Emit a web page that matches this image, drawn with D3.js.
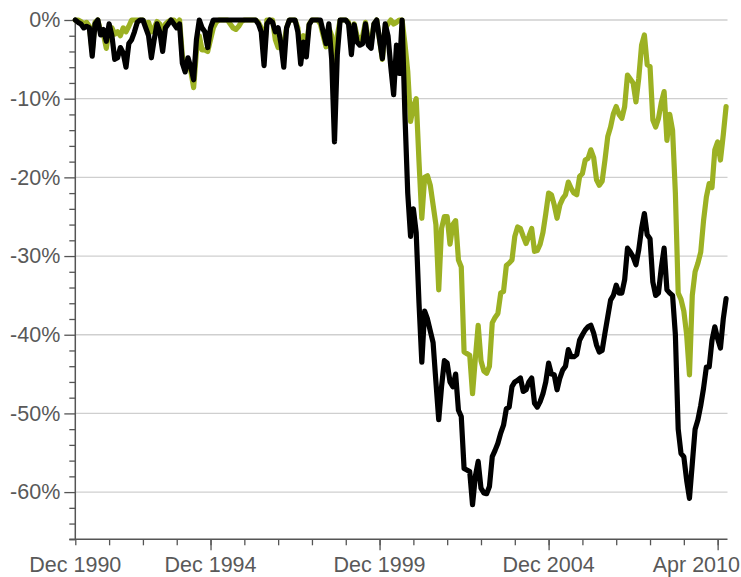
<!DOCTYPE html>
<html>
<head>
<meta charset="utf-8">
<script src="https://cdn.jsdelivr.net/npm/d3@7"></script>
<style>
  html, body { margin: 0; padding: 0; background: #fff; }
  svg { display: block; }
  text { font-family: "Liberation Sans", Arial, Helvetica, sans-serif; }
</style>
</head>
<body>
<svg id="chart" width="741" height="577"></svg>
<script>
// Monthly drawdown values (%), one point per month
const seriesBlack = [
  0, -0.3, -0.5, -1.0, -0.8, -1.0, -4.6, -0.5, 0, -1.9,
  -1.2, -2.7, -0.5, -2.0, -5.0, -4.8, -3.5, -4.2, -6.0, -3.0,
  -2.5, -1.5, -0.3, 0, 0, -1.0, -2.0, -4.8, -2.5, -0.5,
  -1.5, -4.0, -1.0, -0.5, 0, -0.5, -1.0, -0.5, -5.5, -6.6,
  -4.8, -6.0, -7.6, -2.5, 0, -1.0, -1.5, -3.5, -1.0, 0,
  0, 0, 0, 0, 0, 0, 0, 0, 0, 0,
  0, 0, 0, 0, 0, -0.5, -1.5, -5.8, -0.5, 0,
  -0.3, -1.5, -1.0, -3.0, -6.0, -1.0, 0, 0, 0, -1.5,
  -5.6, -2.8, -4.7, -0.6, 0, 0, 0, 0, -1.5, -3.0,
  -0.5, -5.0, -15.5, -4.4, 0, 0, 0, -0.5, -4.4, -0.6,
  -2.8, -3.2, -3.0, -0.5, -3.2, -3.6, -0.5, 0, -2.5, -4.9,
  -0.5, -2.0, -6.0, -9.5, -3.2, -6.8, 0, -12.0, -22.0, -27.5,
  -24.0, -27.0, -36.0, -43.5, -37.0, -38.0, -39.5, -41.0, -46.0, -50.8,
  -46.6, -43.3, -43.6, -46.0, -46.6, -45.0, -49.6, -50.4, -57.0, -57.2,
  -57.4, -61.6, -58.0, -56.1, -59.5, -60.1, -60.2, -59.3, -55.5, -54.7,
  -53.8, -52.5, -51.5, -49.4, -49.2, -46.6, -46.0, -45.8, -45.5, -47.2,
  -47.0, -46.0, -45.5, -48.7, -49.2, -48.5, -47.5, -46.0, -43.6, -45.0,
  -45.1, -47.0, -45.5, -44.5, -44.0, -41.9, -42.8, -42.8, -42.5, -40.7,
  -40.0, -39.4, -39.0, -38.8, -39.8, -41.3, -42.2, -42.0, -39.8, -37.7,
  -35.6, -35.0, -33.7, -34.7, -34.7, -33.0, -29.0, -29.5, -30.1, -31.1,
  -29.2, -26.5, -24.6, -27.3, -27.8, -33.3, -35.0, -34.7, -31.5, -29.0,
  -34.3, -34.7, -35.0, -40.0, -52.0, -55.1, -55.5, -58.5, -60.8, -56.4,
  -52.0, -50.8, -49.0, -46.8, -44.1, -44.1, -40.7, -39.0, -40.5, -41.7,
  -38.0, -35.4
];
const seriesGreen = [
  0, 0, -0.2, -0.5, -0.3, -0.8, -4.0, -0.3, 0, -1.5,
  -1.8, -3.6, -1.2, -1.0, -1.8, -1.5, -2.0, -1.0, -1.5, -0.8,
  0, 0, 0, 0, 0, -0.5, -0.3, -1.5, -1.0, -0.2,
  -0.5, -1.5, -0.5, -0.2, 0, 0, -0.5, 0, -4.5, -6.0,
  -5.5, -6.5, -8.6, -4.0, -2.0, -3.8, -3.8, -4.0, -2.5, -1.0,
  -0.3, 0, 0, 0, 0, -0.5, -1.0, -1.2, -0.8, -0.2,
  0, 0, 0, 0, 0, -0.3, -1.0, -4.5, 0, 0,
  0, -2.5, -3.5, -2.5, -3.0, -1.0, 0, 0, 0, -1.0,
  -4.5, -2.0, -3.5, -0.5, 0, 0, 0, -0.5, -2.0, -3.4,
  -1.0, -2.0, -5.5, -2.0, 0, 0, 0, -0.3, -2.5, -0.5,
  -2.0, -2.5, -2.0, -0.3, -2.5, -2.8, -0.5, 0, -2.5, -5.0,
  -1.0, -0.5, 0, -0.5, -0.3, 0, 0, -3.0, -6.5, -12.9,
  -11.0, -10.0, -18.0, -25.2, -20.0, -19.8, -21.0, -23.5, -26.0, -34.3,
  -26.5, -25.0, -25.0, -28.5, -26.0, -25.5, -30.5, -31.4, -42.2, -42.4,
  -42.6, -47.5, -43.0, -38.8, -43.3, -44.6, -44.9, -44.0, -38.5, -37.8,
  -37.3, -34.7, -34.5, -31.2, -30.9, -30.5, -27.5, -26.3, -26.5, -27.5,
  -28.4, -27.5, -26.5, -29.4, -29.3, -28.5, -27.0, -24.6, -22.0, -22.2,
  -23.5, -25.2, -23.5, -22.7, -22.2, -20.6, -21.4, -22.0, -22.2, -19.9,
  -19.5, -17.8, -17.6, -16.5, -17.5, -20.3, -21.0, -20.5, -17.8, -14.8,
  -13.6, -11.9, -11.0, -12.0, -12.5, -11.0, -7.0, -7.5, -8.0, -10.4,
  -7.4, -3.2, -1.9, -5.7, -5.9, -12.7, -13.6, -12.5, -10.5, -9.1,
  -15.3, -12.0, -14.0, -22.0, -34.7, -35.5, -37.0, -40.0, -45.1, -35.0,
  -32.0, -30.9, -29.5, -25.5, -22.5, -20.8, -21.3, -16.5, -15.5, -17.8,
  -14.6, -11.0
];
const xTickLabels = ["Dec 1990", "Dec 1994", "Dec 1999", "Dec 2004", "Apr 2010"];
const xTickLabelIndex = [0, 48, 108, 168, 228];
const yMajorTicks = [0, -10, -20, -30, -40, -50, -60];

(function () {
const svg = d3.select("#chart");
const W = 741;
const mLeft = 75.3, mRight = 727.5, mTop = 20, mBottom = 539.3;

const x = d3.scaleLinear().domain([0, 231.5]).range([mLeft, mRight]);
const y = d3.scaleLinear().domain([-66, 0]).range([mBottom, mTop]);

const axisColor = "#555";
const labelColor = "#595959";

// gridlines
svg.append("g").selectAll("line").data(yMajorTicks).join("line")
  .attr("x1", mLeft).attr("x2", mRight)
  .attr("y1", d => y(d)).attr("y2", d => y(d))
  .attr("stroke", "#cfcfcf").attr("stroke-width", 1.3);

// y axis: major ticks with labels, minor ticks every 2%
const yAxis = d3.axisLeft(y).tickValues(yMajorTicks).tickSize(11).tickPadding(4)
  .tickFormat(d => String(d) + "%");
const yg = svg.append("g").attr("transform", `translate(${mLeft},0)`).call(yAxis);
yg.select(".domain").remove();
yg.selectAll(".tick line").attr("stroke", axisColor).attr("stroke-width", 1.3);
yg.selectAll(".tick text").attr("fill", labelColor).attr("font-size", 21.5)
  .attr("font-family", '"Liberation Sans", Arial, sans-serif');

const yMinor = d3.range(0, -67, -2).filter(v => v % 10 !== 0);
const yMinorAxis = d3.axisLeft(y).tickValues(yMinor).tickSize(6).tickFormat("");
const ymg = svg.append("g").attr("transform", `translate(${mLeft},0)`).call(yMinorAxis);
ymg.select(".domain").remove();
ymg.selectAll(".tick line").attr("stroke", axisColor).attr("stroke-width", 1.3);

svg.append("line").attr("x1", mLeft).attr("x2", mLeft).attr("y1", mTop).attr("y2", mBottom)
  .attr("stroke", axisColor).attr("stroke-width", 1.5);

// x axis
const xMinor = d3.range(0, 229, 12);
const xMinorAxis = d3.axisBottom(x).tickValues(xMinor).tickSize(6).tickFormat("");
const xmg = svg.append("g").attr("transform", `translate(0,${mBottom})`).call(xMinorAxis);
xmg.select(".domain").remove();
xmg.selectAll(".tick line").attr("stroke", axisColor).attr("stroke-width", 1.3);

const xMajorAxis = d3.axisBottom(x).tickValues(xTickLabelIndex.slice(1)).tickSize(11).tickFormat("");
const xg = svg.append("g").attr("transform", `translate(0,${mBottom})`).call(xMajorAxis);
xg.select(".domain").remove();
xg.selectAll(".tick line").attr("stroke", axisColor).attr("stroke-width", 1.3);

svg.append("line").attr("x1", mLeft - 6).attr("x2", mRight).attr("y1", mBottom).attr("y2", mBottom)
  .attr("stroke", axisColor).attr("stroke-width", 1.5);

// x labels (kept inside the frame)
svg.append("g").selectAll("text").data(xTickLabels).join("text")
  .attr("y", 572)
  .attr("font-size", 21.5)
  .attr("fill", labelColor)
  .text(d => d)
  .each(function (d, i) {
    const cx = x(xTickLabelIndex[i]);
    const w = this.getComputedTextLength();
    let xpos = cx - w / 2;
    if (xpos + w > W - 1) xpos = W - 1 - w;
    d3.select(this).attr("x", xpos);
  });

// series lines
const line = d3.line().x((d, i) => x(i)).y(d => y(d));
svg.append("path").datum(seriesGreen)
  .attr("d", line).attr("fill", "none")
  .attr("stroke", "#9cb123").attr("stroke-width", 5.2)
  .attr("stroke-linejoin", "round").attr("stroke-linecap", "round");
svg.append("path").datum(seriesBlack)
  .attr("d", line).attr("fill", "none")
  .attr("stroke", "#000").attr("stroke-width", 5.2)
  .attr("stroke-linejoin", "round").attr("stroke-linecap", "round");
})();
</script>
</body>
</html>
